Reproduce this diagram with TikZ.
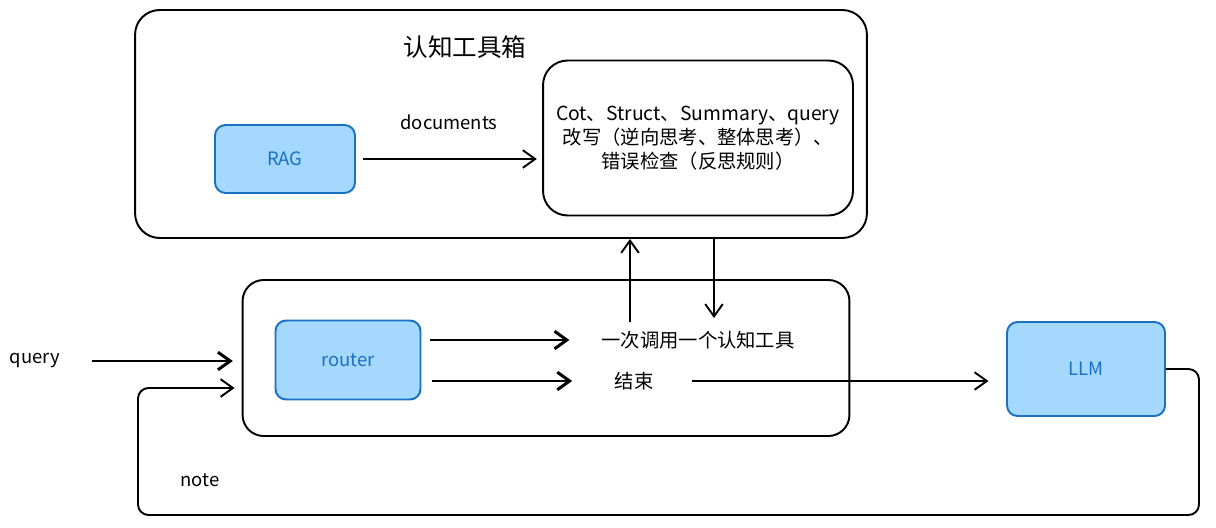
\documentclass[tikz,border=0pt]{standalone}
\usepackage{fontspec}
\setmainfont{Noto Sans CJK SC}
\usepackage{xcolor}
\usetikzlibrary{arrows.meta,positioning,calc}
\definecolor{boxfill}{HTML}{A5D8FF}
\definecolor{boxline}{HTML}{1971C2}
\newcommand{\titlesize}{\fontsize{14}{17}\selectfont}
\newcommand{\labelsize}{\fontsize{10.5}{13.5}\selectfont}
\newcommand{\toolsize}{\fontsize{11}{13.6}\selectfont}

\begin{document}
\begin{tikzpicture}[x=0.02cm, y=-0.02cm,
    frame/.style={draw, line width=1.1pt, rounded corners=14pt, inner sep=0pt},
    bluebox/.style={draw=boxline, fill=boxfill, line width=1.1pt, rounded corners=6pt, text=boxline, font=\labelsize},
    flow/.style={-{Straight Barb[length=7pt,width=10pt]}, line width=1.1pt},
    heavy/.style={flow, line width=1.7pt},
    txt/.style={font=\labelsize, inner sep=1pt}]
    \useasboundingbox (0,0) rectangle (1216,527);
    % toolbox
    \node[frame, minimum width=14.64cm, minimum height=4.56cm] (toolbox) at (501,124) {};
    \node[font=\titlesize] (title) at (465,47) {认知工具箱};
    \node[frame, minimum width=6.2cm, minimum height=3.1cm, align=center, font=\toolsize] (tools) at (698,138)
        {Cot、Struct、Summary、query\\改写（逆向思考、整体思考）、\\错误检查（反思规则）};
    \node[bluebox, minimum width=2.8cm, minimum height=1.36cm] (rag) at (285,159) {RAG};
    \draw[flow, shorten <=4pt, shorten >=3pt] (rag) -- (tools.west |- rag) node[midway, above=15pt, txt] (docs) {documents};
    % router
    \node[frame, rounded corners=12pt, minimum width=12.14cm, minimum height=3.12cm] (routing) at (546,358) {};
    \node[bluebox, minimum width=2.9cm, minimum height=1.58cm] (router) at (348,360) {router};
    \node[txt, font=\toolsize] (call) at (698,340) {一次调用一个认知工具};
    \node[txt, font=\toolsize] (done) at (634,381) {结束};
    \node[bluebox, minimum width=3.16cm, minimum height=1.88cm] (llm) at (1086,369) {LLM};
    \node[txt] (query) at (35,361) {query};
    \node[txt] (note) at (200,480) {note};
    \draw[heavy, shorten <=5pt, shorten >=17pt] (router.east |- call) -- (call.west);
    \draw[heavy, shorten <=6pt, shorten >=23pt] (router.east |- done) -- (done.west);
    \draw[flow, shorten <=21pt, shorten >=10pt] (done.east) -- (llm.west |- done);
    \draw[heavy, shorten <=17pt, shorten >=5pt] (query.east) -- (routing.west |- query);
    % to and from the toolbox
    \coordinate (upfoot) at (630,322);
    \coordinate (downfoot) at (714,318);
    \draw[flow] (upfoot) -- (upfoot |- toolbox.south);
    \draw[flow] (downfoot |- toolbox.south) -- (downfoot);
    % loop back
    \coordinate (loopR) at (1199,515);
    \coordinate (loopL) at (138,515);
    \draw[flow, rounded corners=6pt, shorten >=4pt] (llm.east) -| (loopR) -- (loopL) |- ($(routing.west)+(0,30)$);
\end{tikzpicture}
\end{document}
